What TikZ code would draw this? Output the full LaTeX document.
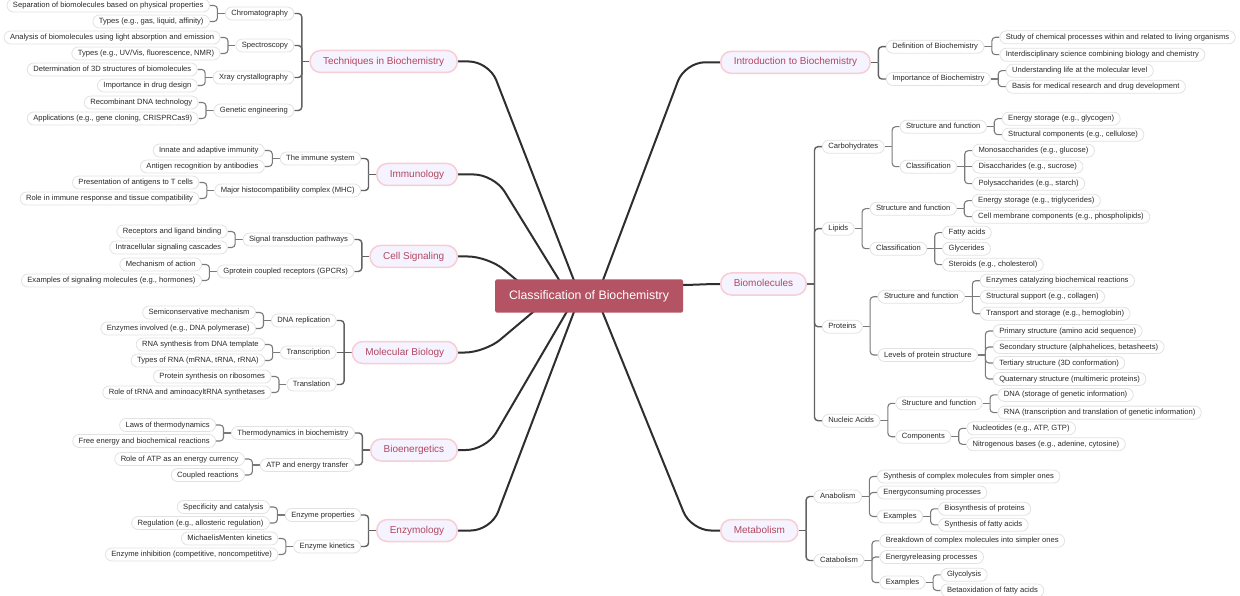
\documentclass[tikz,border=0pt]{standalone}
\usepackage{fontspec}
\setmainfont{Liberation Sans}
\usetikzlibrary{positioning,backgrounds}

\definecolor{rootfill}{HTML}{B35363}
\definecolor{mainfill}{HTML}{F5F3FF}
\definecolor{mainedge}{HTML}{F8CDD3}
\definecolor{maintext}{HTML}{B3475F}
\definecolor{leafedge}{HTML}{E2E2E2}
\definecolor{leaftext}{HTML}{2A2A2A}
\definecolor{trunkcol}{HTML}{2E2E2E}
\definecolor{linkcol}{HTML}{7A7A7A}

\tikzset{
  rootbox/.style={fill=rootfill, text=white, font=\fontsize{12.3}{14}\selectfont,
    minimum width=188pt, minimum height=33pt, rounded corners=1.5pt, inner sep=0pt},
  topic/.style={draw=mainedge, line width=1.5pt, fill=mainfill, text=maintext,
    font=\fontsize{10}{12}\selectfont, rounded corners=10.5pt, minimum height=22pt,
    inner xsep=13pt, inner ysep=0pt, text height=7.4pt, text depth=2pt},
  leaf/.style={draw=leafedge, line width=0.8pt, fill=white, text=leaftext,
    font=\fontsize{7.6}{9}\selectfont, rounded corners=6.5pt, minimum height=13pt,
    inner xsep=6pt, inner ysep=0pt, text height=5.6pt, text depth=1.6pt},
  trunk/.style={draw=trunkcol, line width=2pt, rounded corners=20pt},
  bus/.style={draw=linkcol!80!black, line width=1.4pt, rounded corners=3.5pt},
  link/.style={draw=linkcol, line width=1.1pt, rounded corners=3.5pt}
}

\begin{document}
\begin{tikzpicture}[x=1pt, y=1pt]
\useasboundingbox (0,0) rectangle (1240,-596);

\node[rootbox] (root) at (589,-296) {Classification of Biochemistry};

% left side
\node[topic, anchor=east] (tech) at (458,-61.5) {Techniques in Biochemistry};
\node[leaf, left=15pt of tech, yshift=48pt] (chrom) {Chromatography};
\node[leaf, left=15pt of chrom, yshift=8pt] (chromA) {Separation of biomolecules based on physical properties};
\node[leaf, left=15pt of chrom, yshift=-8pt] (chromB) {Types (e.g., gas, liquid, affinity)};
\node[leaf, left=15pt of tech, yshift=16pt] (spec) {Spectroscopy};
\node[leaf, left=15pt of spec, yshift=8pt] (specA) {Analysis of biomolecules using light absorption and emission};
\node[leaf, left=15pt of spec, yshift=-8pt] (specB) {Types (e.g., UV/Vis, fluorescence, NMR)};
\node[leaf, left=15pt of tech, yshift=-16pt] (xray) {Xray crystallography};
\node[leaf, left=15pt of xray, yshift=8pt] (xrayA) {Determination of 3D structures of biomolecules};
\node[leaf, left=15pt of xray, yshift=-8pt] (xrayB) {Importance in drug design};
\node[leaf, left=15pt of tech, yshift=-49pt] (gene) {Genetic engineering};
\node[leaf, left=15pt of gene, yshift=8pt] (geneA) {Recombinant DNA technology};
\node[leaf, left=15pt of gene, yshift=-8pt] (geneB) {Applications (e.g., gene cloning, CRISPRCas9)};

\node[topic, anchor=east] (immu) at (458,-174.5) {Immunology};
\node[leaf, left=15pt of immu, yshift=16pt] (imsys) {The immune system};
\node[leaf, left=15pt of imsys, yshift=8pt] (imsysA) {Innate and adaptive immunity};
\node[leaf, left=15pt of imsys, yshift=-8pt] (imsysB) {Antigen recognition by antibodies};
\node[leaf, left=15pt of immu, yshift=-16pt] (mhc) {Major histocompatibility complex (MHC)};
\node[leaf, left=15pt of mhc, yshift=8pt] (mhcA) {Presentation of antigens to T cells};
\node[leaf, left=15pt of mhc, yshift=-8pt] (mhcB) {Role in immune response and tissue compatibility};

\node[topic, anchor=east] (csig) at (458,-256.5) {Cell Signaling};
\node[leaf, left=15pt of csig, yshift=17pt] (sigtr) {Signal transduction pathways};
\node[leaf, left=15pt of sigtr, yshift=8pt] (sigtrA) {Receptors and ligand binding};
\node[leaf, left=15pt of sigtr, yshift=-8pt] (sigtrB) {Intracellular signaling cascades};
\node[leaf, left=15pt of csig, yshift=-15pt] (gpcr) {Gprotein coupled receptors (GPCRs)};
\node[leaf, left=15pt of gpcr, yshift=7pt] (gpcrA) {Mechanism of action};
\node[leaf, left=15pt of gpcr, yshift=-9pt] (gpcrB) {Examples of signaling molecules (e.g., hormones)};

\node[topic, anchor=east] (molb) at (458,-352.5) {Molecular Biology};
\node[leaf, left=15pt of molb, yshift=32pt] (dnar) {DNA replication};
\node[leaf, left=15pt of dnar, yshift=8pt] (dnarA) {Semiconservative mechanism};
\node[leaf, left=15pt of dnar, yshift=-8pt] (dnarB) {Enzymes involved (e.g., DNA polymerase)};
\node[leaf, left=15pt of molb] (trsc) {Transcription};
\node[leaf, left=15pt of trsc, yshift=8pt] (trscA) {RNA synthesis from DNA template};
\node[leaf, left=15pt of trsc, yshift=-8pt] (trscB) {Types of RNA (mRNA, tRNA, rRNA)};
\node[leaf, left=15pt of molb, yshift=-32pt] (trsl) {Translation};
\node[leaf, left=15pt of trsl, yshift=8pt] (trslA) {Protein synthesis on ribosomes};
\node[leaf, left=15pt of trsl, yshift=-8pt] (trslB) {Role of tRNA and aminoacyltRNA synthetases};

\node[topic, anchor=east] (bene) at (458,-450) {Bioenergetics};
\node[leaf, left=15pt of bene, yshift=17pt] (thermo) {Thermodynamics in biochemistry};
\node[leaf, left=15pt of thermo, yshift=8pt] (thermoA) {Laws of thermodynamics};
\node[leaf, left=15pt of thermo, yshift=-8pt] (thermoB) {Free energy and biochemical reactions};
\node[leaf, left=15pt of bene, yshift=-15pt] (atp) {ATP and energy transfer};
\node[leaf, left=15pt of atp, yshift=6pt] (atpA) {Role of ATP as an energy currency};
\node[leaf, left=15pt of atp, yshift=-10pt] (atpB) {Coupled reactions};

\node[topic, anchor=east] (enzy) at (458,-530.5) {Enzymology};
\node[leaf, left=15pt of enzy, yshift=15.5pt] (eprop) {Enzyme properties};
\node[leaf, left=15pt of eprop, yshift=8pt] (epropA) {Specificity and catalysis};
\node[leaf, left=15pt of eprop, yshift=-8pt] (epropB) {Regulation (e.g., allosteric regulation)};
\node[leaf, left=15pt of enzy, yshift=-16pt] (ekin) {Enzyme kinetics};
\node[leaf, left=15pt of ekin, yshift=8pt] (ekinA) {MichaelisMenten kinetics};
\node[leaf, left=15pt of ekin, yshift=-8pt] (ekinB) {Enzyme inhibition (competitive, noncompetitive)};

% right side
\node[topic, anchor=west] (intro) at (720,-62.3) {Introduction to Biochemistry};
\node[leaf, right=15pt of intro, yshift=15.6pt] (idef) {Definition of Biochemistry};
\node[leaf, right=15pt of idef, yshift=9.4pt] (idefA) {Study of chemical processes within and related to living organisms};
\node[leaf, right=15pt of idef, yshift=-8pt] (idefB) {Interdisciplinary science combining biology and chemistry};
\node[leaf, right=15pt of intro, yshift=-16.7pt] (iimp) {Importance of Biochemistry};
\node[leaf, right=15pt of iimp, yshift=8.3pt] (iimpA) {Understanding life at the molecular level};
\node[leaf, right=15pt of iimp, yshift=-7.7pt] (iimpB) {Basis for medical research and drug development};

\node[topic, anchor=west] (biom) at (720,-284) {Biomolecules};
\node[leaf, right=15pt of biom, yshift=137.3pt] (carb) {Carbohydrates};
\node[leaf, right=15pt of carb, yshift=20pt] (carbsf) {Structure and function};
\node[leaf, right=15pt of carbsf, yshift=8pt] (carbsfA) {Energy storage (e.g., glycogen)};
\node[leaf, right=15pt of carbsf, yshift=-8pt] (carbsfB) {Structural components (e.g., cellulose)};
\node[leaf, right=15pt of carb, yshift=-20pt] (carbcl) {Classification};
\node[leaf, right=15pt of carbcl, yshift=16pt] (carbclA) {Monosaccharides (e.g., glucose)};
\node[leaf, right=15pt of carbcl] (carbclB) {Disaccharides (e.g., sucrose)};
\node[leaf, right=15pt of carbcl, yshift=-17pt] (carbclC) {Polysaccharides (e.g., starch)};
\node[leaf, right=15pt of biom, yshift=55.3pt] (lipi) {Lipids};
\node[leaf, right=15pt of lipi, yshift=20pt] (lipsf) {Structure and function};
\node[leaf, right=15pt of lipsf, yshift=8pt] (lipsfA) {Energy storage (e.g., triglycerides)};
\node[leaf, right=15pt of lipsf, yshift=-8pt] (lipsfB) {Cell membrane components (e.g., phospholipids)};
\node[leaf, right=15pt of lipi, yshift=-20pt] (lipcl) {Classification};
\node[leaf, right=15pt of lipcl, yshift=16pt] (lipclA) {Fatty acids};
\node[leaf, right=15pt of lipcl] (lipclB) {Glycerides};
\node[leaf, right=15pt of lipcl, yshift=-16pt] (lipclC) {Steroids (e.g., cholesterol)};
\node[leaf, right=15pt of biom, yshift=-42.7pt] (prot) {Proteins};
\node[leaf, right=15pt of prot, yshift=30pt] (protsf) {Structure and function};
\node[leaf, right=15pt of protsf, yshift=16pt] (protsfA) {Enzymes catalyzing biochemical reactions};
\node[leaf, right=15pt of protsf] (protsfB) {Structural support (e.g., collagen)};
\node[leaf, right=15pt of protsf, yshift=-17pt] (protsfC) {Transport and storage (e.g., hemoglobin)};
\node[leaf, right=15pt of prot, yshift=-28.3pt] (protlv) {Levels of protein structure};
\node[leaf, right=15pt of protlv, yshift=24pt] (protlvA) {Primary structure (amino acid sequence)};
\node[leaf, right=15pt of protlv, yshift=8pt] (protlvB) {Secondary structure (alphahelices, betasheets)};
\node[leaf, right=15pt of protlv, yshift=-8pt] (protlvC) {Tertiary structure (3D conformation)};
\node[leaf, right=15pt of protlv, yshift=-24pt] (protlvD) {Quaternary structure (multimeric proteins)};
\node[leaf, right=15pt of biom, yshift=-136.7pt] (nucl) {Nucleic Acids};
\node[leaf, right=15pt of nucl, yshift=17.4pt] (nuclsf) {Structure and function};
\node[leaf, right=15pt of nuclsf, yshift=8.4pt] (nuclsfA) {DNA (storage of genetic information)};
\node[leaf, right=15pt of nuclsf, yshift=-9.3pt] (nuclsfB) {RNA (transcription and translation of genetic information)};
\node[leaf, right=15pt of nucl, yshift=-16pt] (nuclco) {Components};
\node[leaf, right=15pt of nuclco, yshift=8.4pt] (nuclcoA) {Nucleotides (e.g., ATP, GTP)};
\node[leaf, right=15pt of nuclco, yshift=-7.6pt] (nuclcoB) {Nitrogenous bases (e.g., adenine, cytosine)};

\node[topic, anchor=west] (meta) at (720,-530.5) {Metabolism};
\node[leaf, right=15pt of meta, yshift=34pt] (anab) {Anabolism};
\node[leaf, right=15pt of anab, yshift=20pt] (anabA) {Synthesis of complex molecules from simpler ones};
\node[leaf, right=15pt of anab, yshift=4pt] (anabB) {Energyconsuming processes};
\node[leaf, right=15pt of anab, yshift=-20pt] (anabex) {Examples};
\node[leaf, right=15pt of anabex, yshift=7.7pt] (anabexA) {Biosynthesis of proteins};
\node[leaf, right=15pt of anabex, yshift=-8.3pt] (anabexB) {Synthesis of fatty acids};
\node[leaf, right=15pt of meta, yshift=-30pt] (cata) {Catabolism};
\node[leaf, right=15pt of cata, yshift=19.7pt] (cataA) {Breakdown of complex molecules into simpler ones};
\node[leaf, right=15pt of cata, yshift=3.5pt] (cataB) {Energyreleasing processes};
\node[leaf, right=15pt of cata, yshift=-22pt] (cataex) {Examples};
\node[leaf, right=15pt of cataex, yshift=7.7pt] (cataexA) {Glycolysis};
\node[leaf, right=15pt of cataex, yshift=-8pt] (cataexB) {Betaoxidation of fatty acids};

\begin{pgfonlayer}{background}
% root to topics
\draw[trunk] ([xshift=-9pt]root.center) -- ([xshift=31pt]tech.east) -- (tech.east);
\draw[trunk] ([xshift=-20pt]root.center) -- ([xshift=36pt]immu.east) -- (immu.east);
\draw[trunk] ([xshift=-53pt]root.center) -- ([xshift=30pt]csig.east) -- (csig.east);
\draw[trunk] ([xshift=-37pt]root.center) -- ([xshift=27pt]molb.east) -- (molb.east);
\draw[trunk] ([xshift=-13pt]root.center) -- ([xshift=28pt]bene.east) -- (bene.east);
\draw[trunk] ([xshift=-9pt]root.center) -- ([xshift=33pt]enzy.east) -- (enzy.east);
\draw[trunk] ([xshift=8pt]root.center) -- ([xshift=-35pt]intro.west) -- (intro.west);
\draw[trunk] ([xshift=-4pt,yshift=11pt]root.east) to[out=0,in=180] (biom.west);
\draw[trunk] ([xshift=7pt]root.center) -- ([xshift=-29pt]meta.west) -- (meta.west);

% topics to first level
\foreach \p/\cs in {tech/{chrom,spec,xray,gene}, immu/{imsys,mhc}, csig/{sigtr,gpcr},
    molb/{dnar,trsl}, bene/{thermo,atp}, enzy/{eprop,ekin}}{
  \draw[bus] (\p.west) -- ++(-7.5,0);
  \foreach \c in \cs \draw[bus] ([xshift=-7.5pt]\p.west) |- (\c.east);
}
\draw[bus] (molb.west) -- (trsc.east);
\foreach \p/\cs in {intro/{idef,iimp}, biom/{carb,lipi,prot,nucl}, meta/{anab,cata}}{
  \draw[bus] (\p.east) -- ++(7.5,0);
  \foreach \c in \cs \draw[bus] ([xshift=7.5pt]\p.east) |- (\c.west);
}

% deeper levels
\foreach \p/\cs in {chrom/{chromA,chromB}, spec/{specA,specB}, xray/{xrayA,xrayB},
    gene/{geneA,geneB}, imsys/{imsysA,imsysB}, mhc/{mhcA,mhcB}, sigtr/{sigtrA,sigtrB},
    gpcr/{gpcrA,gpcrB}, dnar/{dnarA,dnarB}, trsc/{trscA,trscB}, trsl/{trslA,trslB},
    thermo/{thermoA,thermoB}, atp/{atpA,atpB}, eprop/{epropA,epropB}, ekin/{ekinA,ekinB}}{
  \draw[link] (\p.west) -- ++(-7.5,0);
  \foreach \c in \cs \draw[link] ([xshift=-7.5pt]\p.west) |- (\c.east);
}
\foreach \p/\cs in {idef/{idefA,idefB}, iimp/{iimpA,iimpB}, carb/{carbsf,carbcl},
    carbsf/{carbsfA,carbsfB}, carbcl/{carbclA,carbclC}, lipi/{lipsf,lipcl},
    lipsf/{lipsfA,lipsfB}, lipcl/{lipclA,lipclC}, prot/{protsf,protlv},
    protsf/{protsfA,protsfC}, protlv/{protlvA,protlvB,protlvC,protlvD},
    nucl/{nuclsf,nuclco}, nuclsf/{nuclsfA,nuclsfB}, nuclco/{nuclcoA,nuclcoB},
    anab/{anabA,anabB,anabex}, anabex/{anabexA,anabexB},
    cata/{cataA,cataB,cataex}, cataex/{cataexA,cataexB}}{
  \draw[link] (\p.east) -- ++(7.5,0);
  \foreach \c in \cs \draw[link] ([xshift=7.5pt]\p.east) |- (\c.west);
}
\foreach \p/\c in {carbcl/carbclB, lipcl/lipclB, protsf/protsfB}
  \draw[link] (\p.east) -- (\c.west);
\end{pgfonlayer}
\end{tikzpicture}
\end{document}
